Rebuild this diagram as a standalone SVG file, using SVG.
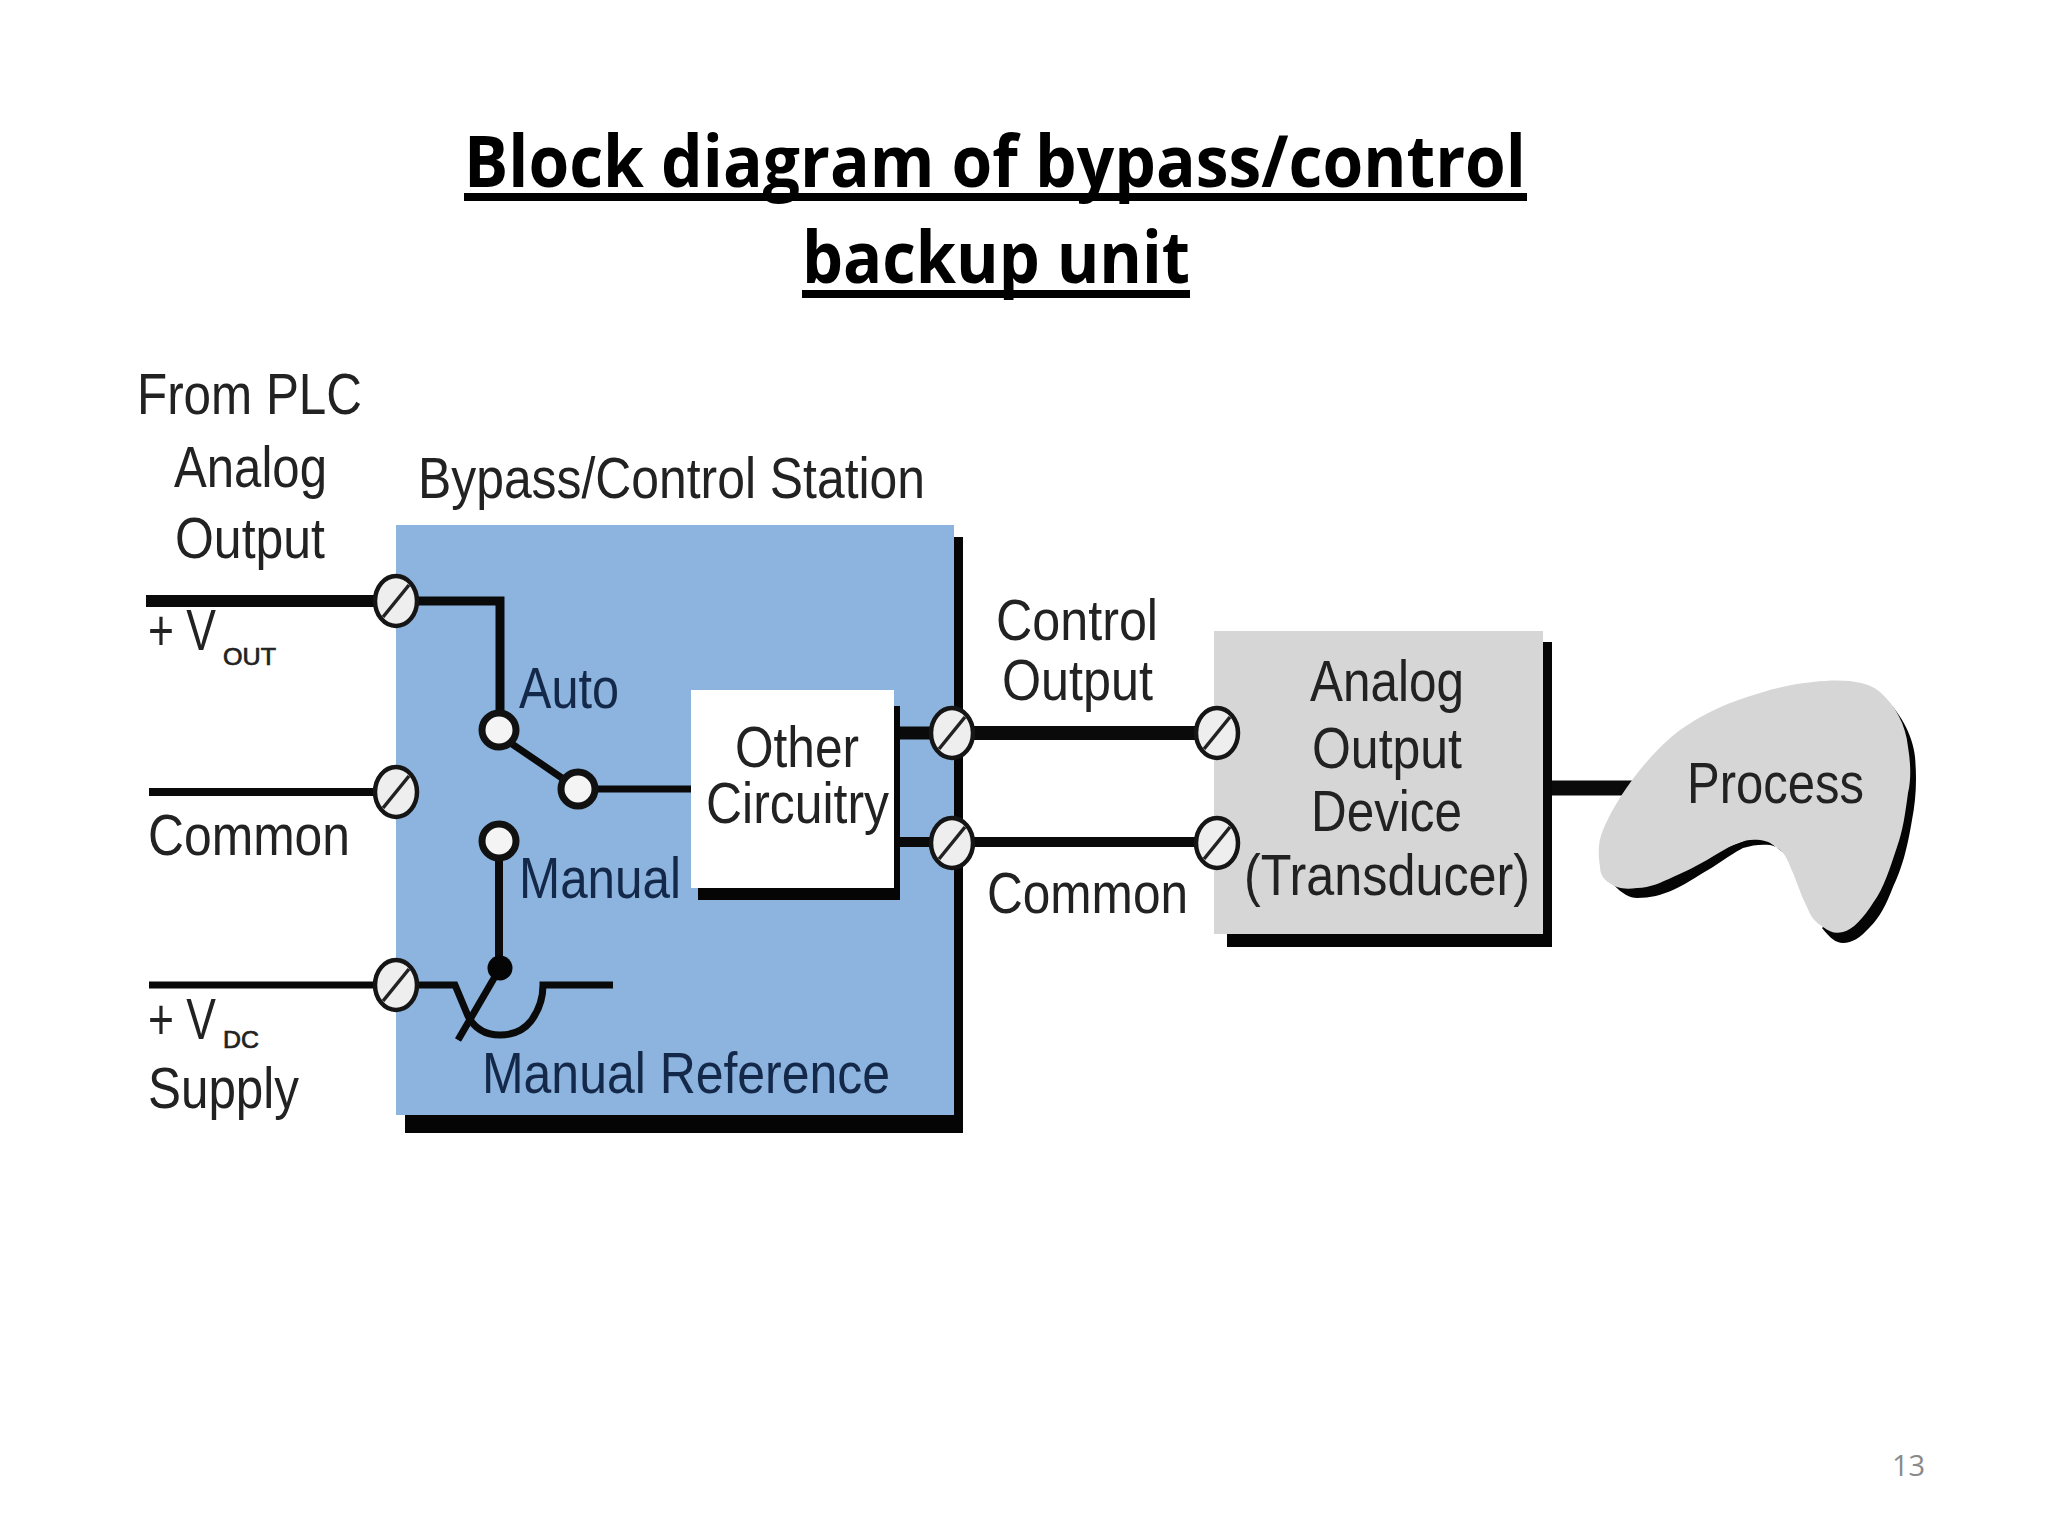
<svg xmlns="http://www.w3.org/2000/svg" width="2048" height="1536" viewBox="0 0 2048 1536">
<style>
.t{font-family:"Liberation Sans",Arial,sans-serif;font-size:58px;fill:#222}
.n{fill:#14294a}
.s{font-family:"Liberation Sans",Arial,sans-serif;font-size:24px;fill:#222;stroke:#222;stroke-width:.7}
.h{font-family:"Open Sans","Noto Sans",sans-serif;font-weight:700;font-size:72px;fill:#000}
.w{fill:none;stroke:#0a0a0a;stroke-linejoin:miter}
.k{fill:#050505}
.term{fill:#eeeeee;stroke:#151515;stroke-width:4.5}
.slash{stroke:#222;stroke-width:3.5;fill:none}
.sw{fill:#f4f4f4;stroke:#111;stroke-width:7}
</style>
<defs>
<g id="terminal"><ellipse class="term" rx="21" ry="25"/><line class="slash" x1="-13" y1="16" x2="13" y2="-16"/></g>
</defs>
<rect width="2048" height="1536" fill="#ffffff"/>
<g id="title">
<text class="h" x="464" y="187" textLength="1062" lengthAdjust="spacingAndGlyphs">Block diagram of bypass/control</text>
<rect x="464" y="193" width="1063" height="8" fill="#000"/>
<text class="h" x="802" y="283" textLength="388" lengthAdjust="spacingAndGlyphs">backup unit</text>
<rect x="802" y="290" width="388" height="8" fill="#000"/>
</g>
<g id="station">
<rect x="405" y="536" width="558" height="597" class="k"/>
<rect x="396" y="525" width="558" height="590" fill="#8db4de"/>
<rect x="954" y="525" width="10" height="12" fill="#fff"/>
<rect x="396" y="1115" width="9" height="19" fill="#fff"/>
<text class="t" x="418" y="498" textLength="507" lengthAdjust="spacingAndGlyphs">Bypass/Control Station</text>
<text class="t n" x="482" y="1093" textLength="408" lengthAdjust="spacingAndGlyphs">Manual Reference</text>
<text class="t n" x="519" y="708" textLength="100" lengthAdjust="spacingAndGlyphs">Auto</text>
<text class="t n" x="519" y="898" textLength="162" lengthAdjust="spacingAndGlyphs">Manual</text>
</g>
<g id="other-circuitry">
<rect x="698" y="706" width="202" height="194" class="k"/>
<rect x="691" y="690" width="203" height="198" fill="#fff"/>
<rect x="691" y="888" width="7" height="12" fill="#8db4de"/>
<rect x="894" y="690" width="6" height="16" fill="#8db4de"/>
<text class="t" x="735" y="767" textLength="124" lengthAdjust="spacingAndGlyphs">Other</text>
<text class="t" x="706" y="823" textLength="183" lengthAdjust="spacingAndGlyphs">Circuitry</text>
</g>
<g id="transducer">
<rect x="1227" y="642" width="325" height="305" class="k"/>
<rect x="1214" y="631" width="329" height="303" fill="#d6d6d6"/>
<rect x="1543" y="631" width="9" height="11" fill="#fff"/>
<rect x="1214" y="934" width="13" height="13" fill="#fff"/>
<text class="t" x="1310" y="701" textLength="154" lengthAdjust="spacingAndGlyphs">Analog</text>
<text class="t" x="1312" y="768" textLength="150" lengthAdjust="spacingAndGlyphs">Output</text>
<text class="t" x="1311" y="831" textLength="151" lengthAdjust="spacingAndGlyphs">Device</text>
<text class="t" x="1244" y="895" textLength="286" lengthAdjust="spacingAndGlyphs">(Transducer)</text>
</g>
<g id="connectors">
<path class="w" stroke-width="12" d="M146 601H380"/>
<path class="w" stroke-width="9" d="M410 601H500V715"/>
<path class="w" stroke-width="8" d="M149 792H380"/>
<path class="w" stroke-width="7" d="M149 985H380"/>
<path class="w" stroke-width="7" d="M415 985H455L468 1016Q478 1035 500 1035Q520 1035 531 1021Q543 1005 543 985H613"/>
<path class="w" stroke-width="7" d="M500 968L458 1040"/>
<path class="w" stroke-width="8" d="M499 855V968"/>
<path class="w" stroke-width="7" d="M499 735L578 789"/>
<path class="w" stroke-width="7" d="M590 789H691"/>
<path class="w" stroke-width="13" d="M900 733H945"/>
<path class="w" stroke-width="10" d="M900 842H945"/>
<path class="w" stroke-width="14" d="M955 733H1216"/>
<path class="w" stroke-width="10" d="M955 842H1216"/>
<path class="w" stroke-width="15" d="M1552 788H1640"/>
</g>
<g id="switch-contacts">
<circle class="sw" cx="499" cy="730" r="17"/>
<circle class="sw" cx="578" cy="789" r="17"/>
<circle class="sw" cx="499" cy="841" r="17"/>
<circle cx="500" cy="968" r="12.5" class="k"/>
</g>
<g id="terminals">
<use href="#terminal" x="396" y="601"/>
<use href="#terminal" x="396" y="792"/>
<use href="#terminal" x="396" y="985"/>
<use href="#terminal" x="952" y="733"/>
<use href="#terminal" x="952" y="843"/>
<use href="#terminal" x="1217" y="733"/>
<use href="#terminal" x="1217" y="843"/>
</g>
<g id="process">
<path class="k" d="M1882 696C1899 710 1913 735 1915 757C1917 780 1916 800 1912 820C1907 850 1902 868 1893 887C1886 905 1880 917 1870 927C1860 938 1852 943 1843 943C1836 943 1830 938 1822 928L1850 900L1880 750Z"/>
<path class="k" d="M1613 884C1622 894 1630 898 1637 898C1650 898 1662 895 1673 890C1690 882 1702 873 1713 867C1725 859 1735 852 1743 848C1752 845 1762 844 1770 845C1776 846 1780 849 1784 853L1760 835L1640 880Z"/>
<path fill="#d6d6d6" d="M1813 682C1840 679 1866 680 1880 692C1895 705 1906 725 1908 747C1911 765 1911 780 1908 793C1905 815 1903 830 1897 847C1890 868 1884 888 1873 903C1864 917 1853 930 1843 932C1835 934 1830 932 1823 927C1815 922 1811 917 1807 907C1800 893 1798 885 1793 873C1789 864 1787 856 1780 850C1774 844 1768 841 1760 840C1752 839 1745 840 1737 843C1726 848 1717 854 1707 860C1696 866 1685 872 1673 877C1662 882 1650 888 1637 888C1629 889 1623 889 1617 887C1607 883 1600 877 1600 867C1598 853 1598 842 1603 830C1610 813 1620 797 1630 783C1643 765 1660 745 1680 730C1700 716 1722 705 1747 697C1768 690 1790 684 1813 682Z"/>
<text class="t" x="1687" y="803" textLength="177" lengthAdjust="spacingAndGlyphs">Process</text>
</g>
<g id="labels">
<text class="t" x="137" y="414" textLength="225" lengthAdjust="spacingAndGlyphs">From PLC</text>
<text class="t" x="174" y="487" textLength="153" lengthAdjust="spacingAndGlyphs">Analog</text>
<text class="t" x="175" y="558" textLength="150" lengthAdjust="spacingAndGlyphs">Output</text>
<text class="t" x="148" y="650" textLength="68" lengthAdjust="spacingAndGlyphs">+ V</text>
<text class="s" x="223" y="665" textLength="53" lengthAdjust="spacingAndGlyphs">OUT</text>
<text class="t" x="148" y="855" textLength="202" lengthAdjust="spacingAndGlyphs">Common</text>
<text class="t" x="148" y="1039" textLength="68" lengthAdjust="spacingAndGlyphs">+ V</text>
<text class="s" x="223" y="1048" textLength="36" lengthAdjust="spacingAndGlyphs">DC</text>
<text class="t" x="148" y="1108" textLength="151" lengthAdjust="spacingAndGlyphs">Supply</text>
<text class="t" x="996" y="640" textLength="162" lengthAdjust="spacingAndGlyphs">Control</text>
<text class="t" x="1002" y="700" textLength="151" lengthAdjust="spacingAndGlyphs">Output</text>
<text class="t" x="987" y="913" textLength="201" lengthAdjust="spacingAndGlyphs">Common</text>
</g>
<text id="page-number" x="1892" y="1476" font-family="'Open Sans','Noto Sans',sans-serif" font-size="29" fill="#8a8a8a" textLength="33">13</text>
</svg>
